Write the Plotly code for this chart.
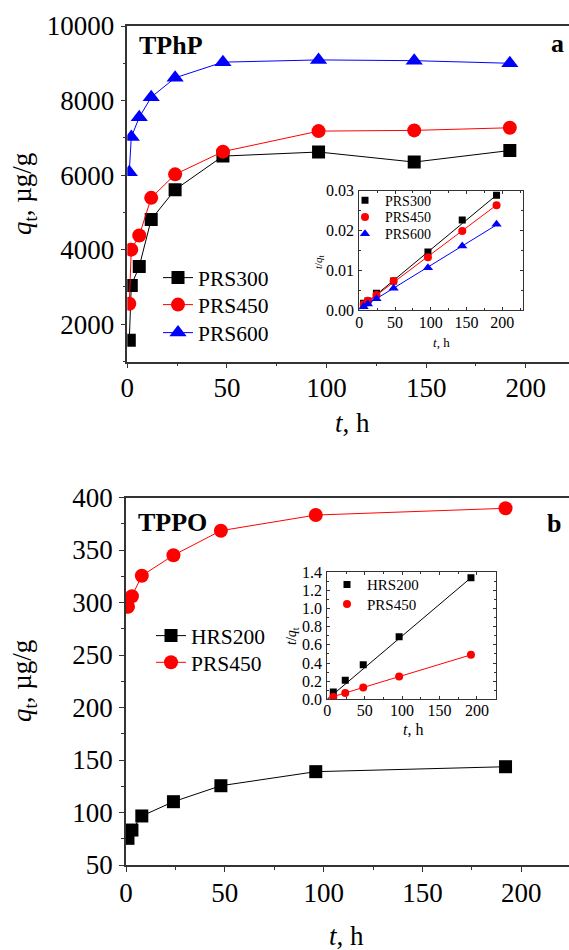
import plotly.graph_objects as go

# ---------------- data ----------------
# Panel a (TPhP) main kinetics
t_a = [1, 2, 6, 12, 24, 48, 96, 144, 192]
q_prs300 = [1570, 3040, 3550, 4810, 5610, 6510, 6620, 6350, 6660]
q_prs450 = [2550, 4000, 4380, 5390, 6020, 6630, 7180, 7200, 7270]
q_prs600 = [6080, 7020, 7550, 8090, 8610, 9030, 9090, 9070, 9000]

# Panel a inset (t/qt)
ti_a = [6, 12, 24, 48, 96, 144, 192]
r_prs300 = [0.00168, 0.00226, 0.00419, 0.00729, 0.01458, 0.02263, 0.02883]
r_prs450 = [0.00140, 0.00235, 0.00377, 0.00730, 0.01324, 0.01986, 0.02631]
r_prs600 = [0.00080, 0.00150, 0.00285, 0.00545, 0.01064, 0.01609, 0.02154]
fit_t_a = [0, 192]
fit_prs300 = [0.0003, 0.0289]
fit_prs450 = [0.0005, 0.0264]
fit_prs600 = [0.0002, 0.0214]

# Panel b (TPPO) main kinetics
t_b = [1, 3, 8, 24, 48, 96, 192]
q_hrs200 = [75.4, 83.3, 96.7, 110.3, 125.5, 138.9, 143.6]
q_prs450b = [296, 306, 325.5, 345, 368.4, 383.3, 389.7]

# Panel b inset (t/qt)
ti_b = [8, 24, 48, 96, 192]
r_hrs200 = [0.08, 0.21, 0.38, 0.69, 1.34]
r_prs450b = [0.025, 0.07, 0.13, 0.25, 0.49]
fit_t_b = [0, 192]
fit_hrs200 = [0.0, 1.34]
fit_prs450b = [0.01, 0.49]

W, H = 569, 950
FONT = "Liberation Serif"
BLACK, RED, BLUE = "#000000", "#ff0000", "#0000ff"


def px(x):
    return x / W


def py(y):
    return 1 - y / H


fig = go.Figure()
legends = {}


def make_legend(key, x_marker, y_center, size):
    legends[key] = dict(x=px(x_marker - 20), y=py(y_center - 0.97 * size),
                        xanchor="left", yanchor="top", bgcolor="rgba(0,0,0,0)",
                        font=dict(family=FONT, size=size), tracegroupgap=0)


# ---- main a ----
main_a = [
    ("PRS300", q_prs300, BLACK, "square", 13, "legend", 278),
    ("PRS450", q_prs450, RED, "circle", 14, "legend2", 305),
    ("PRS600", q_prs600, BLUE, "triangle-up", 15, "legend3", 333),
]
for name, y, col, sym, sz, lg, yc in main_a:
    fig.add_trace(go.Scatter(x=t_a, y=y, name=name, mode="lines+markers",
                             line=dict(color=col, width=1),
                             marker=dict(color=col, symbol=sym, size=sz),
                             xaxis="x", yaxis="y", legend=lg))
    make_legend(lg, 178, yc, 21.5)

# ---- inset a ----
inset_a = [
    ("PRS300", r_prs300, fit_prs300, BLACK, "square", 7, "legend4", 198.3),
    ("PRS450", r_prs450, fit_prs450, RED, "circle", 8, "legend5", 215),
    ("PRS600", r_prs600, fit_prs600, BLUE, "triangle-up", 9, "legend6", 231.7),
]
for name, y, fy, col, sym, sz, lg, yc in inset_a:
    fig.add_trace(go.Scatter(x=fit_t_a, y=fy, mode="lines", showlegend=False,
                             line=dict(color=col, width=1), xaxis="x2", yaxis="y2"))
    fig.add_trace(go.Scatter(x=ti_a, y=y, name=name, mode="markers",
                             marker=dict(color=col, symbol=sym, size=sz),
                             xaxis="x2", yaxis="y2", legend=lg))
    make_legend(lg, 365, yc, 14)

# ---- main b ----
main_b = [
    ("HRS200", q_hrs200, BLACK, "square", 13, "legend7", 636),
    ("PRS450", q_prs450b, RED, "circle", 14, "legend8", 662.7),
]
for name, y, col, sym, sz, lg, yc in main_b:
    fig.add_trace(go.Scatter(x=t_b, y=y, name=name, mode="lines+markers",
                             line=dict(color=col, width=1),
                             marker=dict(color=col, symbol=sym, size=sz),
                             xaxis="x3", yaxis="y3", legend=lg))
    make_legend(lg, 171, yc, 21.5)

# ---- inset b ----
inset_b = [
    ("HRS200", r_hrs200, fit_hrs200, BLACK, "square", 7, "legend9", 582.7),
    ("PRS450", r_prs450b, fit_prs450b, RED, "circle", 8, "legend10", 602.3),
]
for name, y, fy, col, sym, sz, lg, yc in inset_b:
    fig.add_trace(go.Scatter(x=fit_t_b, y=fy, mode="lines", showlegend=False,
                             line=dict(color=col, width=1), xaxis="x4", yaxis="y4"))
    fig.add_trace(go.Scatter(x=ti_b, y=y, name=name, mode="markers",
                             marker=dict(color=col, symbol=sym, size=sz),
                             xaxis="x4", yaxis="y4", legend=lg))
    make_legend(lg, 347, yc, 15)


def main_axis(domain, rng, dtick, minor, anchor, mirror, standoff=1, fsize=27):
    return dict(domain=domain, range=rng, anchor=anchor, dtick=dtick, tick0=0,
                tickformat="d", exponentformat="none",
                showgrid=False, zeroline=False, showline=True, linecolor="#333333",
                linewidth=1.5, mirror=mirror, ticks="outside", ticklen=5, tickwidth=1.2,
                tickcolor="#333333", ticklabelstandoff=standoff,
                tickfont=dict(family=FONT, size=fsize, color="black"),
                minor=dict(dtick=minor, ticks="outside", ticklen=3, tickcolor="#333333",
                           showgrid=False),
                automargin=False)


def inset_axis(domain, rng, dtick, minor, anchor, fsize, fmt, standoff=1):
    return dict(domain=domain, range=rng, anchor=anchor, dtick=dtick, tick0=0,
                tickformat=fmt, showgrid=False, zeroline=False, showline=True,
                linecolor="#333333", linewidth=1, mirror="ticks", ticks="inside",
                ticklen=3, tickwidth=1, tickcolor="#333333", ticklabelstandoff=standoff,
                tickfont=dict(family=FONT, size=fsize, color="black"),
                minor=dict(dtick=minor, ticks="inside", ticklen=2, tickcolor="#333333",
                           showgrid=False),
                automargin=False)


xa_dom = [px(127.3), 1.0]
ya_dom = [py(361.5), py(26)]
xb_dom = [px(126), 1.0]
yb_dom = [py(865), py(497.5)]
xia_dom = [px(359.3), px(523)]
yia_dom = [py(310), py(190.7)]
xib_dom = [px(327.3), px(496.4)]
yib_dom = [py(699.3), py(572.3)]

fig.update_layout(
    width=W, height=H, margin=dict(l=0, r=0, t=0, b=0),
    paper_bgcolor="white", plot_bgcolor="rgba(0,0,0,0)",
    font=dict(family=FONT, color="black"),
    xaxis=main_axis(xa_dom, [0, 221.7], 50, 25, "y", True, standoff=-4),
    yaxis=main_axis(ya_dom, [1000, 10000], 2000, 1000, "x", False),
    xaxis2=inset_axis(xia_dom, [0, 229], 50, 25, "y2", 16, "d", standoff=-2),
    yaxis2=inset_axis(yia_dom, [0, 0.03], 0.01, 0.005, "x2", 16, ".2f"),
    xaxis3=main_axis(xb_dom, [0, 224.1], 50, 25, "y3", True, standoff=-2),
    yaxis3=main_axis(yb_dom, [50, 400], 50, 25, "x3", False),
    xaxis4=inset_axis(xib_dom, [0, 226], 50, 25, "y4", 16, "d", standoff=-4),
    yaxis4=inset_axis(yib_dom, [0, 1.4], 0.2, 0.1, "x4", 16, ".1f"),
    showlegend=True,
    **legends,
)

ann = []


def add_text(text, x, y, size, bold=False, angle=0):
    ann.append(dict(text=(f"<b>{text}</b>" if bold else text), x=px(x), y=py(y),
                    xref="paper", yref="paper", showarrow=False, xanchor="center",
                    yanchor="middle", textangle=angle,
                    font=dict(family=FONT, size=size, color="black")))


add_text("TPhP", 171, 45, 26, bold=True)
add_text("a", 557, 44, 26, bold=True)
add_text("TPPO", 172, 522, 26, bold=True)
add_text("b", 554, 523, 26, bold=True)
add_text("<i>q</i><sub>t</sub>, µg/g", 24, 194, 27, angle=-90)
add_text("<i>q</i><sub>t</sub>, µg/g", 24, 681, 27, angle=-90)
add_text("<i>t</i>, h", 352, 423, 27)
add_text("<i>t</i>, h", 346, 936, 27)
add_text("<i>t</i>, h", 441, 343, 13)
add_text("<i>t</i>/<i>q</i><sub>t</sub>", 319, 262, 11, angle=-90)
add_text("<i>t</i>, h", 413, 729, 16)
add_text("<i>t</i>/<i>q</i><sub>t</sub>", 292, 636, 14, angle=-90)
fig.update_layout(annotations=ann)

fig.write_html("out.html")
